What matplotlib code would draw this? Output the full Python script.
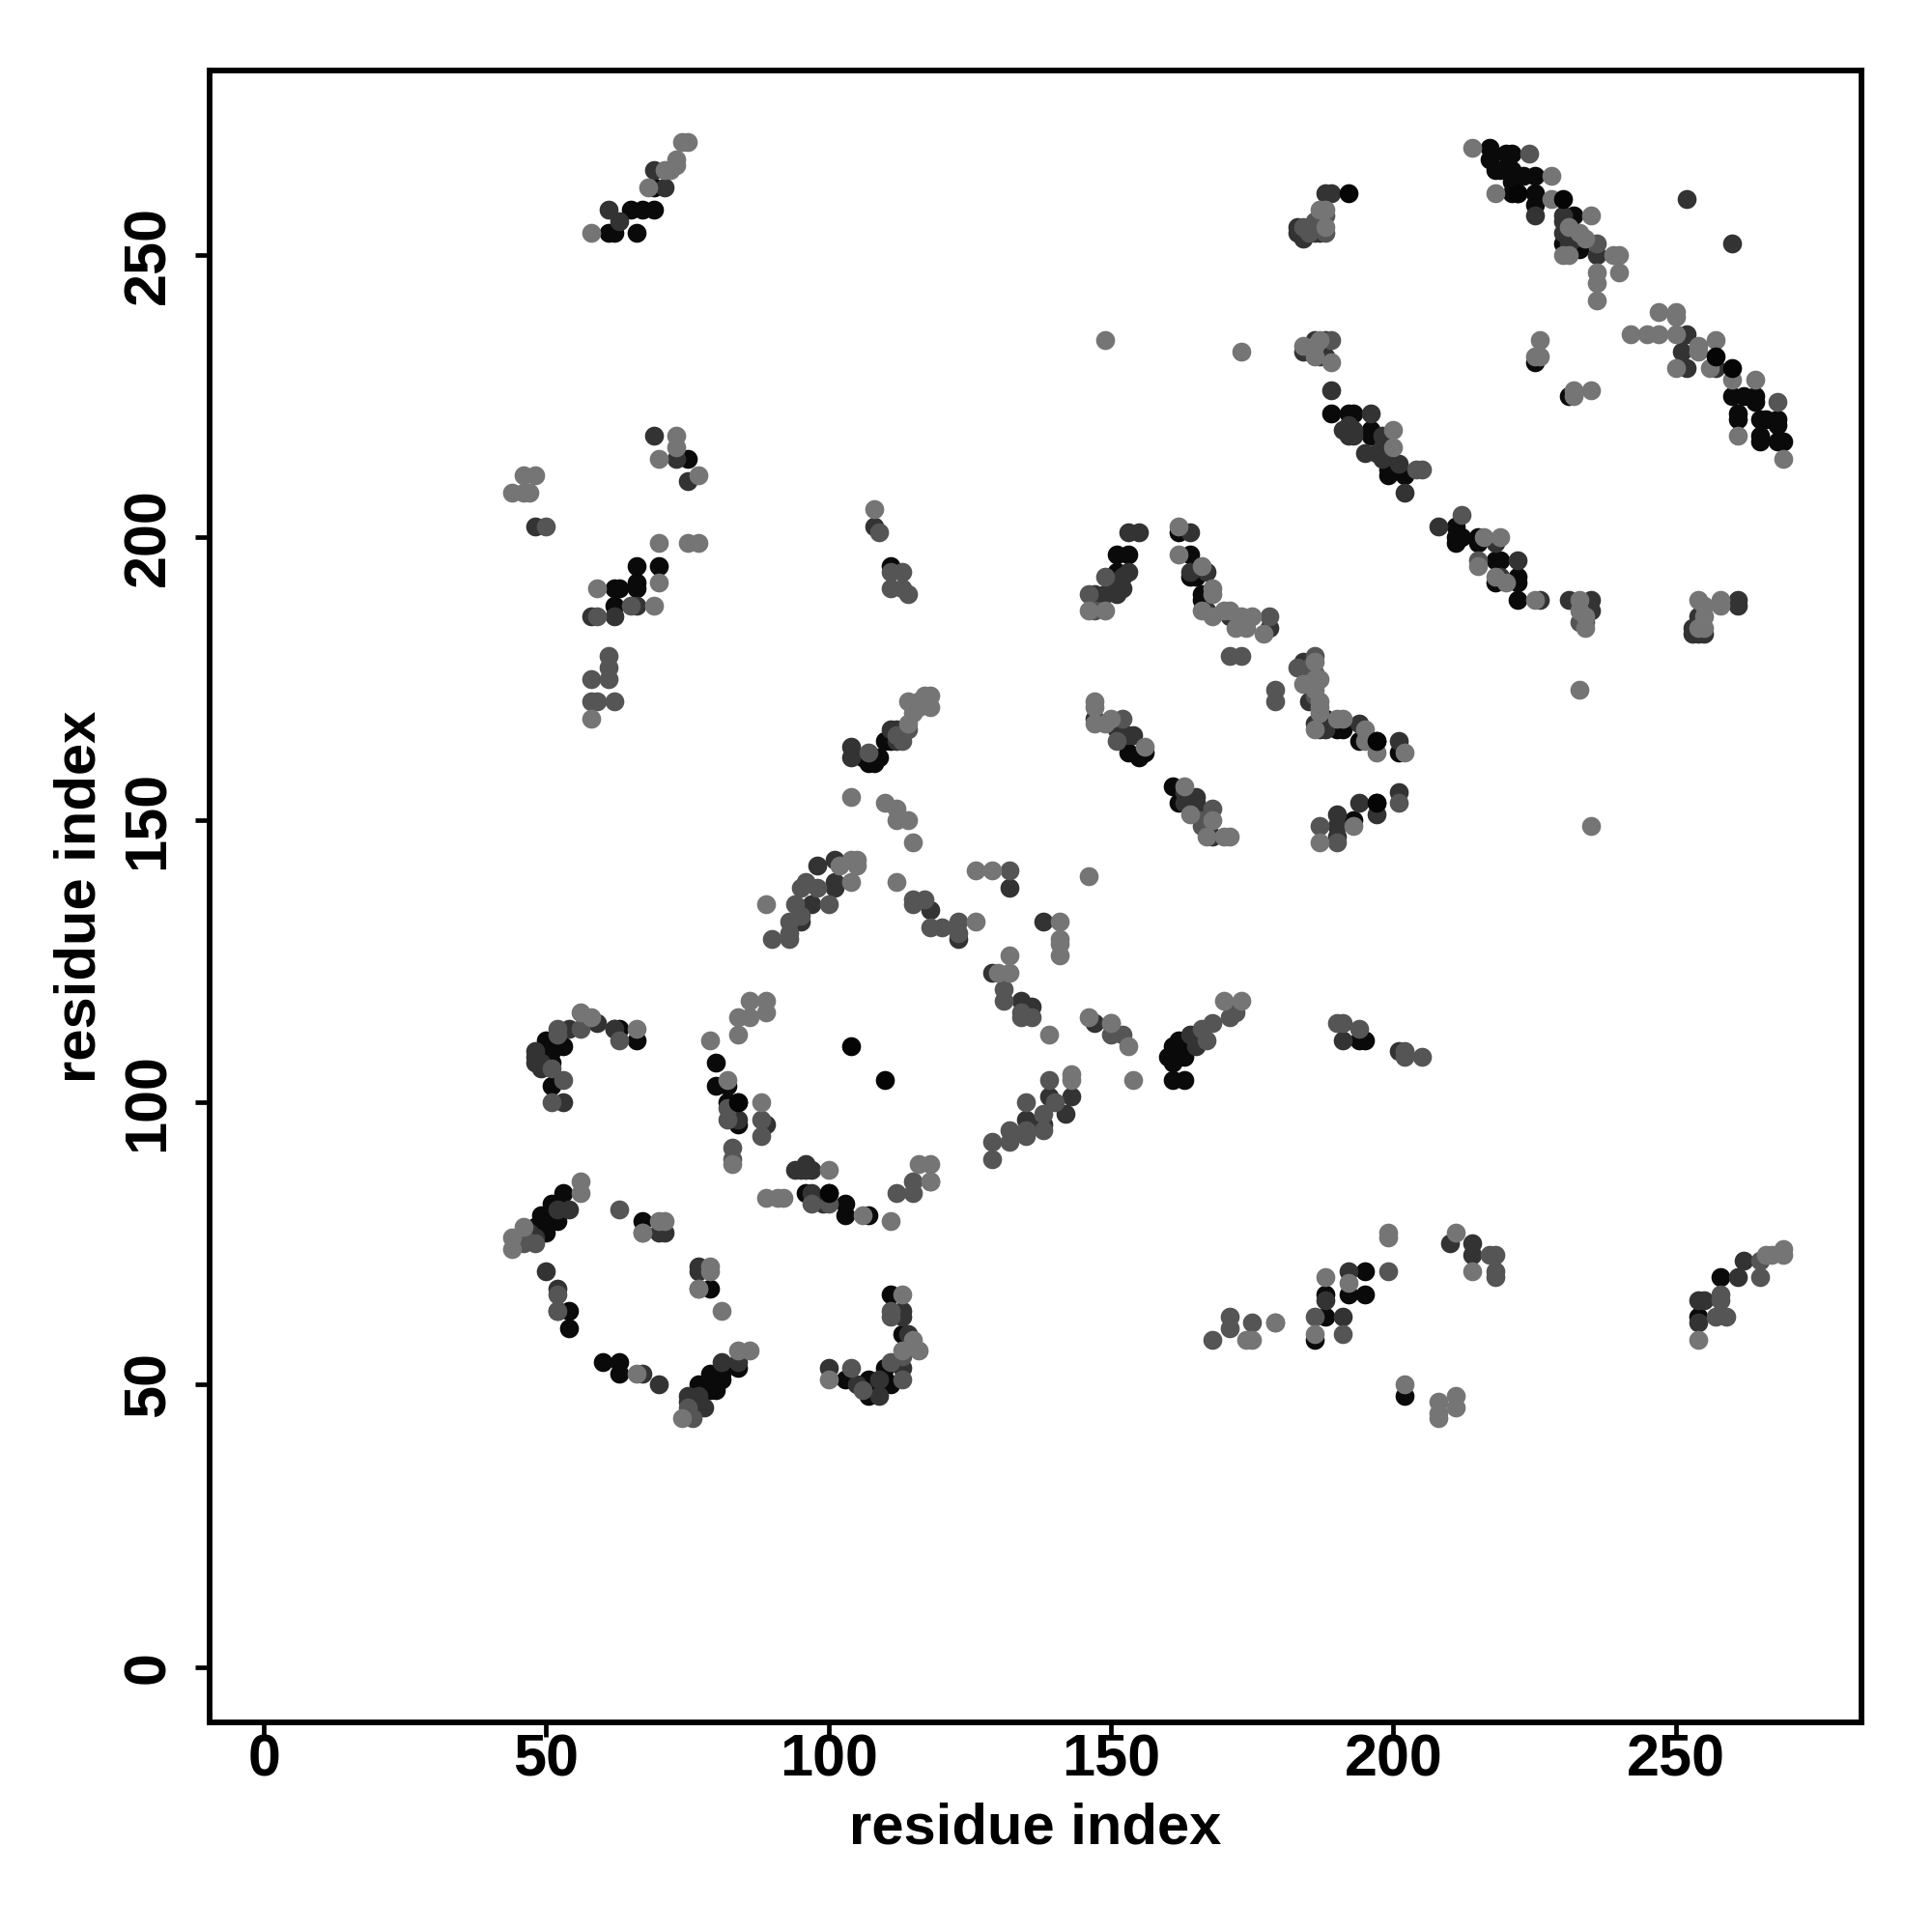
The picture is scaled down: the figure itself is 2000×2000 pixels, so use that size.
import matplotlib
matplotlib.use("Agg")
import matplotlib.pyplot as plt

black_pts = [(61,254),(62,254),(66,254),(65,258),(67,258),(69,258),(69,262),(217,269),(217,267),(218,265),(219,265),(220,268),(221,268),(221,265),(221,263),(223,264),(225,264),(221,261),(222,261),(225,261),(225,259),(232,257),(230,252),(233,251),(264,225),(264,224),(260,225),(262,225),(261,222),(261,221),(265,221),(266,221),(268,221),(268,220),(265,218),(265,217),(268,217),(269,217),(225,231),(231,225),(189,222),(192,222),(193,222),(196,219),(196,218),(199,215),(199,212),(200,212),(202,211),(199,211),(211,202),(211,200),(212,200),(211,199),(215,200),(215,199),(218,196),(219,196),(222,193),(222,192),(218,192),(222,189),(151,197),(153,197),(162,201),(164,197),(164,193),(165,193),(151,194),(151,192),(166,190),(166,189),(190,166),(191,166),(194,164),(197,164),(201,162),(197,153),(193,150),(152,164),(153,162),(155,161),(156,162),(161,156),(162,153),(50,111),(53,110),(51,107),(50,108),(51,103),(63,113),(62,113),(66,111),(80,107),(80,103),(82,103),(84,100),(82,100),(84,96),(53,84),(51,82),(49,80),(51,80),(52,79),(50,77),(48,78),(67,79),(79,67),(52,63),(54,63),(54,60),(60,54),(63,54),(63,52),(84,53),(79,52),(81,52),(81,51),(77,50),(80,49),(96,84),(100,84),(103,82),(103,80),(107,80),(103,51),(107,51),(107,49),(107,48),(111,50),(110,53),(110,51),(111,66),(113,59),(70,195),(66,195),(66,192),(62,191),(63,191),(66,191),(62,188),(75,214),(111,195),(108,160),(109,161),(110,164),(106,161),(160,108),(161,107),(163,110),(162,111),(161,104),(163,104),(194,111),(195,111),(186,58),(188,66),(188,62),(192,66),(195,70),(195,66),(202,48),(254,62),(258,69),(50,110),(51,109),(49,108),(49,109),(78,50),(79,50),(80,51),(79,49),(108,50),(108,49),(109,50),(110,50),(106,50),(49,79),(50,79),(50,80),(51,81),(107,160),(111,164),(161,110),(162,109),(163,108),(165,112),(188,167),(188,168)]

dark_pts = [(63,256),(61,258),(69,265),(71,262),(183,254),(184,253),(188,261),(189,261),(225,257),(230,257),(230,256),(231,252),(236,250),(252,236),(251,233),(257,230),(184,233),(189,226),(196,222),(193,219),(192,218),(198,218),(195,215),(197,215),(202,208),(208,202),(218,199),(219,193),(222,196),(226,189),(153,201),(155,201),(153,194),(147,190),(151,190),(149,190),(167,194),(164,194),(164,201),(167,187),(171,186),(178,184),(184,178),(185,171),(186,167),(187,166),(194,167),(201,164),(201,155),(197,151),(194,153),(190,151),(190,149),(190,147),(147,168),(151,166),(153,165),(154,165),(165,154),(164,154),(165,152),(168,147),(98,142),(101,143),(101,139),(101,138),(97,135),(95,132),(118,134),(123,129),(132,138),(129,123),(138,132),(134,118),(136,117),(147,114),(143,101),(142,98),(139,101),(138,96),(135,97),(59,114),(54,113),(48,109),(49,106),(49,107),(53,100),(62,113),(84,97),(89,96),(95,88),(96,88),(54,81),(52,81),(48,76),(45,76),(70,77),(71,77),(77,71),(77,70),(50,70),(52,67),(67,52),(70,50),(81,54),(84,54),(75,48),(78,46),(94,88),(97,88),(96,89),(97,84),(99,82),(100,53),(109,48),(113,53),(113,63),(113,62),(114,59),(48,202),(69,218),(73,214),(75,210),(66,188),(58,186),(62,186),(108,202),(104,163),(104,161),(112,164),(111,166),(164,112),(191,111),(201,109),(192,70),(188,65),(191,62),(210,75),(214,75),(214,73),(254,65),(255,65),(254,61),(262,72),(261,69),(235,189),(253,184),(231,189),(261,189),(261,188),(252,230),(260,252),(252,260),(254,186),(254,183),(253,183),(255,183),(234,187),(235,187),(183,255),(184,254),(186,254),(187,254),(186,235),(188,235),(187,232),(188,232),(48,108),(48,107),(75,47),(76,47),(76,46),(77,47),(77,48),(105,50),(109,51),(47,77),(230,254),(232,253),(191,219),(192,220),(193,218),(198,216),(198,214),(201,213),(163,155),(164,153),(163,153),(165,153),(150,191),(152,191),(152,193),(113,166),(112,166),(165,110),(188,166)]

midgray_pts = [(224,268),(236,252),(268,224),(189,235),(205,212),(212,204),(215,196),(178,186),(186,179),(204,212),(147,187),(104,53),(111,63),(113,55),(53,104),(100,135),(123,132),(132,141),(139,104),(135,100),(188,254),(186,256),(187,257),(184,255),(185,254),(171,179),(173,179),(179,173),(179,171),(183,177),(201,153),(168,58),(171,62),(171,60),(175,61),(179,61),(186,62),(191,59),(199,70),(218,70),(218,69),(217,73),(218,73),(257,62),(259,62),(258,66),(258,65),(265,69),(265,72),(168,152),(149,193),(152,168),(151,164),(166,113),(167,111),(168,114),(171,115),(172,116),(113,51),(111,62),(111,54),(112,165),(113,164),(46,76),(48,75),(46,75),(52,66),(52,63),(77,67),(63,81),(67,77),(97,82),(100,82),(106,49),(75,46),(76,44),(82,97),(88,97),(88,94),(83,92),(83,90),(56,113),(52,113),(52,112),(63,111),(51,106),(51,100),(82,99),(96,139),(95,138),(98,138),(94,135),(93,132),(93,130),(90,129),(93,129),(95,133),(115,136),(117,136),(115,135),(118,131),(120,131),(123,130),(131,120),(131,118),(134,116),(136,115),(134,115),(150,112),(152,112),(150,114),(138,98),(140,100),(135,95),(138,95),(132,95),(129,93),(132,93),(135,94),(129,90),(115,84),(115,86),(118,86),(112,84),(50,202),(65,188),(61,179),(61,177),(58,175),(61,175),(58,171),(59,171),(62,171),(59,186),(109,201),(111,194),(111,191),(113,194),(113,191),(114,190),(107,162),(114,166),(190,146),(187,149),(146,190),(190,114),(191,114),(194,113),(202,109),(202,108),(205,108),(233,185),(234,185),(188,257),(185,177),(186,176),(166,150),(166,149),(75,45),(186,172)]

light_pts = [(58,254),(74,270),(75,270),(72,265),(73,266),(73,267),(71,265),(68,262),(214,269),(228,264),(218,261),(228,260),(235,257),(233,254),(234,253),(230,250),(231,250),(239,250),(240,250),(240,247),(236,247),(236,245),(236,242),(247,240),(250,240),(250,239),(242,236),(245,236),(247,236),(250,236),(254,234),(254,233),(257,235),(250,230),(256,230),(260,228),(264,228),(261,218),(269,214),(226,235),(226,232),(225,232),(235,226),(232,226),(232,225),(184,234),(187,235),(186,234),(186,232),(189,231),(200,219),(200,216),(216,200),(219,200),(215,195),(218,193),(220,192),(225,189),(162,202),(162,197),(166,195),(146,187),(149,187),(168,191),(168,190),(166,187),(168,186),(170,187),(171,187),(173,186),(175,186),(174,184),(172,184),(177,183),(184,174),(186,175),(186,173),(187,171),(187,169),(186,166),(190,168),(191,168),(195,166),(195,164),(197,162),(202,162),(193,149),(187,146),(147,171),(147,170),(147,167),(150,168),(149,167),(156,163),(163,156),(164,151),(168,150),(167,147),(170,147),(171,147),(146,140),(104,154),(110,153),(112,152),(114,150),(112,150),(115,146),(104,143),(105,143),(102,142),(105,142),(126,141),(129,141),(112,139),(104,139),(89,135),(126,132),(141,132),(141,129),(141,128),(141,126),(132,126),(130,123),(132,123),(139,112),(146,115),(150,114),(153,110),(154,104),(143,105),(143,104),(56,116),(58,115),(66,113),(79,111),(84,112),(84,115),(86,118),(86,115),(89,118),(89,116),(82,104),(88,100),(83,89),(100,88),(118,89),(116,89),(118,86),(56,86),(56,84),(46,78),(44,76),(44,74),(67,77),(70,79),(71,79),(79,71),(79,70),(77,67),(81,63),(66,52),(84,56),(86,56),(74,44),(100,51),(113,66),(113,56),(116,56),(115,58),(89,83),(91,83),(92,83),(106,80),(111,79),(44,208),(46,211),(48,211),(46,208),(47,208),(70,214),(73,218),(73,216),(77,211),(70,199),(75,199),(77,199),(70,192),(69,188),(59,191),(58,168),(108,205),(114,171),(116,171),(117,172),(118,172),(118,170),(116,170),(114,167),(115,169),(173,118),(170,118),(149,235),(173,233),(233,173),(235,149),(233,189),(233,187),(234,184),(234,186),(254,184),(255,184),(254,189),(255,188),(258,188),(255,186),(258,189),(174,58),(175,58),(179,61),(186,59),(188,69),(192,68),(199,77),(199,76),(202,50),(208,47),(208,45),(208,44),(211,48),(211,46),(211,77),(214,70),(254,58),(266,73),(267,73),(269,74),(269,73),(188,258),(187,258),(188,255),(186,178),(187,175),(185,174),(187,170),(231,255)]

top_black_pts = [(104,110),(110,104),(230,260),(260,230),(257,232),(192,261),(222,261),(197,164),(197,153),(84,100),(100,84)]

tick_values = [0, 50, 100, 150, 200, 250]
axis_label = "residue index"

plt.rcParams["font.family"] = ["Liberation Sans", "DejaVu Sans"]
fig = plt.figure(figsize=(10, 10), dpi=200)
ax = fig.add_axes([217/2000, 1 - 1783/2000, (1927-217)/2000, (1783-73)/2000])

groups = [(black_pts, "#0a0a0a"), (dark_pts, "#333333"), (midgray_pts, "#555555"),
          (light_pts, "#757575"), (top_black_pts, "#050505")]
for pts, col in groups:
    ax.scatter([p[0] for p in pts], [p[1] for p in pts], s=50, c=col, linewidths=0, zorder=3)

ax.set_xlim(-9.6, 282.9)
ax.set_ylim(-9.8, 282.7)
ax.set_xticks(tick_values)
ax.set_yticks(tick_values)
ax.tick_params(axis="both", length=5.5, width=1.7, labelsize=22)
ax.tick_params(axis="x", pad=-1.5)
ax.tick_params(axis="y", pad=6.7)
for lab in ax.get_xticklabels() + ax.get_yticklabels():
    lab.set_fontweight("bold")
for lab in ax.get_yticklabels():
    lab.set_rotation(90)
    lab.set_va("center")
for s in ax.spines.values():
    s.set_linewidth(2.1)
ax.set_xlabel(axis_label, fontsize=21.5, fontweight="bold")
ax.set_ylabel(axis_label, fontsize=21.5, fontweight="bold")
ax.xaxis.set_label_coords(0.5, -0.0485)
ax.yaxis.set_label_coords(-0.0625, 0.5)
fig.savefig("out.png", dpi=200)
